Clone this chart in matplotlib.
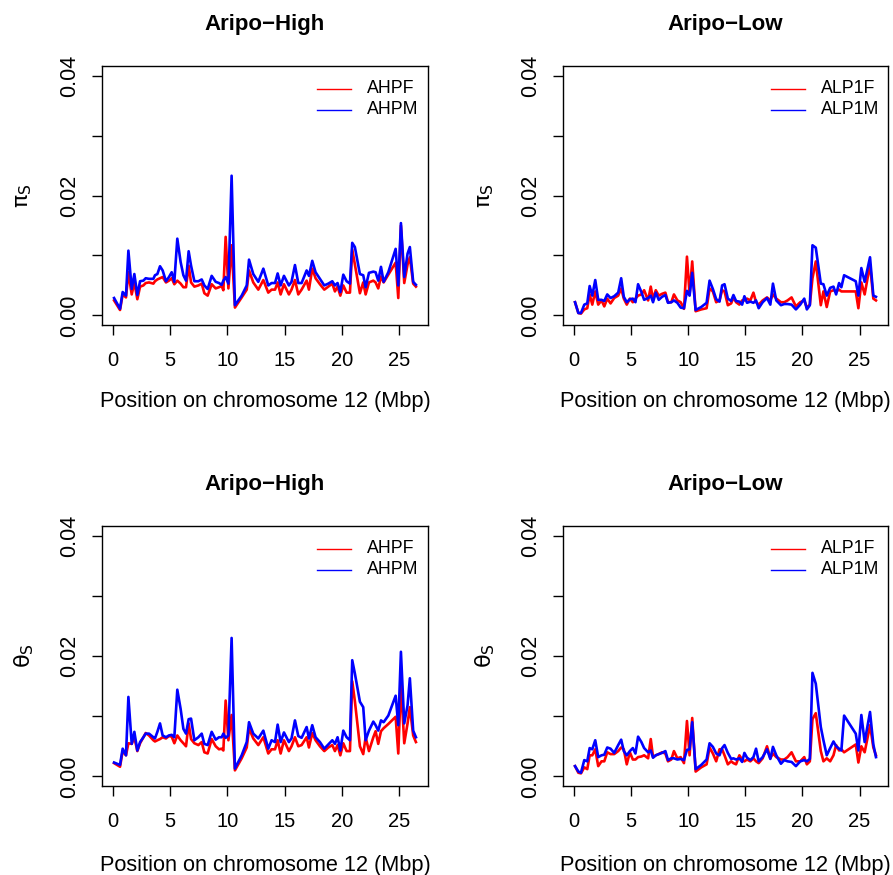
import matplotlib
matplotlib.use("Agg")
import matplotlib.pyplot as plt
import numpy as np

plt.rcParams["font.family"] = ["Liberation Sans", "DejaVu Sans"]
plt.rcParams["mathtext.fontset"] = "dejavusans"

# Window midpoints along chromosome 12 (Mbp)
pos_high = [0.12, 0.64, 0.87, 1.16, 1.37, 1.66, 1.89, 2.15, 2.39, 2.68,
            2.88, 3.17, 3.55, 3.69, 3.90, 4.13, 4.36, 4.65, 4.91, 5.15,
            5.38, 5.64, 5.93, 6.17, 6.40, 6.63, 6.84, 7.13, 7.48, 7.77,
            8.00, 8.29, 8.64, 8.99, 9.28, 9.51, 9.66, 9.86, 10.10, 10.38,
            10.67, 11.26, 11.70, 11.90, 12.27, 12.71, 13.15, 13.58, 13.87, 14.17,
            14.40, 14.66, 14.95, 15.38, 15.61, 15.91, 16.20, 16.49, 16.93, 17.13,
            17.42, 17.71, 18.09, 18.47, 18.82, 19.17, 19.40, 19.63, 19.87, 20.13,
            20.42, 20.71, 20.91, 21.14, 21.58, 21.87, 22.08, 22.37, 22.75, 22.95,
            23.18, 23.42, 23.65, 24.06, 24.70, 24.93, 25.16, 25.45, 25.74, 25.94,
            26.23, 26.47]

pos_low = [0.09, 0.38, 0.61, 0.90, 1.16, 1.37, 1.60, 1.86, 2.12, 2.41,
           2.65, 2.91, 3.20, 3.52, 3.87, 4.13, 4.36, 4.62, 4.89, 5.15,
           5.38, 5.61, 5.90, 6.14, 6.49, 6.72, 6.92, 7.16, 7.42, 7.71,
           8.00, 8.23, 8.52, 8.75, 9.05, 9.34, 9.63, 9.89, 10.12, 10.35,
           10.65, 11.14, 11.61, 11.87, 12.16, 12.45, 12.74, 12.97, 13.18, 13.47,
           13.76, 13.96, 14.19, 14.48, 14.72, 14.92, 15.15, 15.44, 15.71, 15.94,
           16.17, 16.52, 16.90, 17.19, 17.42, 17.71, 18.12, 18.41, 18.70, 19.05,
           19.43, 19.81, 20.16, 20.39, 20.65, 20.88, 21.17, 21.61, 21.84, 22.13,
           22.43, 22.72, 22.95, 23.21, 23.41, 23.65, 24.67, 24.90, 25.16, 25.45,
           25.92, 26.21, 26.44]

# Nucleotide diversity (pi_S), Aripo high-predation
pi_ahpf = [.0025, .0009, .0035, .0030, .0072, .0035, .0055, .0027, .0048, .0050,
           .0054, .0055, .0053, .0057, .0060, .0062, .0064, .0055, .0058, .0062,
           .0052, .0058, .0053, .0047, .0047, .0083, .0055, .0048, .0050, .0053,
           .0037, .0033, .0052, .0045, .0047, .0049, .0042, .0131, .0045, .0117,
           .0013, .0030, .0043, .0075, .0055, .0043, .0059, .0038, .0043, .0043,
           .0055, .0035, .0052, .0035, .0043, .0059, .0035, .0043, .0058, .0043,
           .0078, .0062, .0052, .0043, .0048, .0053, .0040, .0048, .0033, .0050,
           .0038, .0038, .0110, .0085, .0037, .0055, .0035, .0055, .0058, .0055,
           .0045, .0065, .0055, .0068, .0088, .0029, .0150, .0054, .0085, .0097,
           .0053, .0048]
pi_ahpm = [.0029, .0011, .0039, .0033, .0108, .0044, .0069, .0034, .0057, .0058,
           .0062, .0061, .0061, .0067, .0069, .0082, .0075, .0057, .0064, .0072,
           .0056, .0128, .0089, .0067, .0058, .0107, .0083, .0057, .0057, .0060,
           .0050, .0044, .0066, .0056, .0054, .0051, .0058, .0064, .0053, .0233,
           .0017, .0033, .0050, .0093, .0069, .0056, .0078, .0050, .0054, .0054,
           .0070, .0050, .0066, .0050, .0056, .0084, .0054, .0054, .0075, .0066,
           .0091, .0072, .0061, .0050, .0053, .0057, .0050, .0054, .0039, .0068,
           .0057, .0053, .0121, .0114, .0069, .0067, .0047, .0071, .0073, .0072,
           .0058, .0081, .0056, .0072, .0111, .0050, .0154, .0064, .0103, .0114,
           .0056, .0051]

# Nucleotide diversity (pi_S), Aripo low-predation
pi_alp1f = [.0022, .0004, .0003, .0010, .0012, .0035, .0018, .0040, .0018, .0025,
            .0015, .0028, .0020, .0029, .0033, .0045, .0028, .0018, .0028, .0022,
            .0028, .0033, .0035, .0042, .0025, .0048, .0027, .0042, .0033, .0036,
            .0038, .0022, .0022, .0035, .0025, .0022, .0011, .0098, .0035, .0090,
            .0007, .0010, .0012, .0045, .0040, .0022, .0025, .0042, .0040, .0017,
            .0020, .0030, .0022, .0018, .0025, .0025, .0028, .0025, .0038, .0022,
            .0018, .0025, .0030, .0025, .0035, .0028, .0022, .0022, .0025, .0030,
            .0015, .0022, .0025, .0013, .0018, .0062, .0090, .0017, .0040, .0014,
            .0040, .0042, .0040, .0043, .0040, .0040, .0040, .0012, .0055, .0035,
            .0085, .0028, .0025]
pi_alp1m = [.0022, .0004, .0004, .0018, .0020, .0049, .0033, .0059, .0026, .0026,
            .0024, .0035, .0029, .0032, .0038, .0062, .0031, .0022, .0027, .0028,
            .0022, .0052, .0039, .0026, .0029, .0033, .0022, .0038, .0026, .0031,
            .0034, .0021, .0022, .0025, .0021, .0013, .0012, .0041, .0033, .0071,
            .0009, .0014, .0021, .0058, .0044, .0027, .0023, .0050, .0052, .0028,
            .0024, .0034, .0024, .0023, .0018, .0032, .0021, .0023, .0021, .0025,
            .0012, .0022, .0029, .0018, .0053, .0025, .0017, .0019, .0019, .0018,
            .0010, .0018, .0028, .0010, .0017, .0117, .0113, .0053, .0052, .0033,
            .0046, .0048, .0035, .0054, .0047, .0067, .0057, .0033, .0079, .0056,
            .0097, .0033, .0031]

# Watterson's theta (theta_S), Aripo high-predation
th_ahpf = [.0022, .0016, .0042, .0035, .0055, .0054, .0065, .0042, .0055, .0065,
           .0072, .0068, .0060, .0058, .0060, .0062, .0065, .0063, .0067, .0066,
           .0055, .0068, .0060, .0055, .0050, .0088, .0062, .0055, .0052, .0057,
           .0040, .0038, .0062, .0050, .0045, .0046, .0043, .0126, .0060, .0102,
           .0010, .0030, .0048, .0080, .0063, .0052, .0065, .0038, .0045, .0045,
           .0060, .0038, .0060, .0042, .0050, .0065, .0050, .0052, .0065, .0048,
           .0072, .0060, .0050, .0042, .0048, .0052, .0042, .0052, .0035, .0055,
           .0042, .0042, .0158, .0125, .0050, .0037, .0065, .0042, .0065, .0075,
           .0054, .0075, .0080, .0087, .0099, .0038, .0155, .0055, .0088, .0115,
           .0068, .0057]
th_ahpm = [.0023, .0019, .0046, .0035, .0132, .0054, .0074, .0043, .0057, .0065,
           .0071, .0071, .0065, .0063, .0074, .0088, .0068, .0065, .0068, .0069,
           .0065, .0144, .0112, .0079, .0071, .0095, .0096, .0060, .0065, .0071,
           .0054, .0052, .0074, .0061, .0065, .0065, .0071, .0064, .0068, .0230,
           .0013, .0035, .0057, .0090, .0071, .0063, .0076, .0046, .0060, .0057,
           .0086, .0057, .0073, .0057, .0063, .0093, .0067, .0064, .0082, .0063,
           .0085, .0065, .0057, .0046, .0053, .0060, .0054, .0065, .0043, .0076,
           .0065, .0060, .0193, .0171, .0124, .0115, .0060, .0076, .0091, .0085,
           .0076, .0093, .0090, .0101, .0134, .0085, .0207, .0088, .0118, .0163,
           .0076, .0065]

# Watterson's theta (theta_S), Aripo low-predation
th_alp1f = [.0017, .0006, .0005, .0015, .0012, .0035, .0035, .0045, .0017, .0025,
            .0025, .0040, .0037, .0037, .0042, .0048, .0045, .0020, .0040, .0028,
            .0028, .0032, .0033, .0035, .0030, .0062, .0032, .0035, .0037, .0040,
            .0038, .0025, .0028, .0042, .0030, .0032, .0022, .0092, .0035, .0097,
            .0008, .0015, .0020, .0048, .0038, .0025, .0045, .0045, .0035, .0020,
            .0025, .0022, .0020, .0035, .0028, .0025, .0028, .0025, .0030, .0025,
            .0022, .0030, .0050, .0030, .0038, .0032, .0028, .0028, .0032, .0040,
            .0025, .0025, .0032, .0020, .0025, .0095, .0105, .0042, .0025, .0030,
            .0025, .0035, .0052, .0043, .0045, .0040, .0053, .0023, .0050, .0040,
            .0085, .0048, .0035]
th_alp1m = [.0017, .0008, .0006, .0027, .0025, .0047, .0045, .0060, .0032, .0035,
            .0036, .0048, .0046, .0039, .0052, .0061, .0042, .0035, .0042, .0047,
            .0038, .0066, .0057, .0047, .0040, .0043, .0031, .0035, .0037, .0039,
            .0042, .0027, .0030, .0030, .0028, .0029, .0027, .0044, .0045, .0090,
            .0012, .0019, .0028, .0055, .0049, .0038, .0035, .0047, .0052, .0039,
            .0029, .0030, .0028, .0030, .0024, .0039, .0031, .0027, .0032, .0046,
            .0025, .0032, .0045, .0029, .0049, .0035, .0021, .0027, .0025, .0024,
            .0017, .0025, .0027, .0025, .0029, .0172, .0154, .0082, .0060, .0035,
            .0047, .0058, .0050, .0046, .0043, .0101, .0071, .0043, .0102, .0057,
            .0107, .0053, .0032]

W, H = 893, 875
fig = plt.figure(figsize=(W / 100, H / 100), dpi=100)


def px_axes(left, top, right, bottom):
    return fig.add_axes([left / W, 1 - bottom / H, (right - left) / W, (bottom - top) / H])


panels = [
    # (box in pixels, title, ylabel, positions, female, male, labels,
    #  title baseline, xlabel baseline, legend text offset from right edge)
    ((102, 66, 428, 325), "Aripo\u2212High", r"$\mathrm{\pi}_\mathsf{S}$", pos_high, pi_ahpf, pi_ahpm,
     ("AHPF", "AHPM"), 30, 406.5, 61),
    ((563, 66, 888, 325), "Aripo\u2212Low", r"$\mathrm{\pi}_\mathsf{S}$", pos_low, pi_alp1f, pi_alp1m,
     ("ALP1F", "ALP1M"), 30, 406.5, 67),
    ((102, 526, 428, 786), "Aripo\u2212High", r"$\mathrm{\theta}_\mathsf{S}$", pos_high, th_ahpf, th_ahpm,
     ("AHPF", "AHPM"), 490, 871.5, 61),
    ((563, 526, 888, 786), "Aripo\u2212Low", r"$\mathrm{\theta}_\mathsf{S}$", pos_low, th_alp1f, th_alp1m,
     ("ALP1F", "ALP1M"), 490, 871.5, 67),
]

for (l, t, r, b), title, ylab, xs, fem, mal, labs, ty, xly, leg_off in panels:
    ax = px_axes(l, t, r, b)
    ax.plot(xs, fem, color="#FF0000", lw=1.9, solid_joinstyle="round")
    ax.plot(xs, mal, color="#0000FF", lw=1.9, solid_joinstyle="round")

    xr = max(xs) - min(xs)
    ax.set_xlim(min(xs) - 0.04 * xr, max(xs) + 0.04 * xr)
    ax.set_ylim(-0.04 * 0.04, 0.04 * 1.04)

    ax.set_xticks([0, 5, 10, 15, 20, 25])
    ax.set_yticks([0, 0.01, 0.02, 0.03, 0.04])
    ax.set_yticklabels(["0.00", "", "0.02", "", "0.04"], rotation=90, va="center")
    ax.tick_params(axis="both", direction="out", length=7.5, width=1.0, color="black")
    ax.tick_params(axis="x", pad=11, labelsize=14.5)
    ax.tick_params(axis="y", pad=8, labelsize=15.5)
    for s in ax.spines.values():
        s.set_linewidth(1.0)
        s.set_color("black")

    cx = (l + r) / 2
    cy = (t + b) / 2
    fig.text(cx / W, 1 - ty / H, title, ha="center", va="baseline",
             fontsize=16, fontweight="bold")
    fig.text(cx / W, 1 - xly / H, "Position on chromosome 12 (Mbp)",
             ha="center", va="baseline", fontsize=15.7)
    fig.text((l - 78) / W, 1 - cy / H, ylab, ha="center", va="center",
             rotation=90, fontsize=16)

    # legend in the top-right corner, drawn without a frame
    bw, bh = r - l, b - t
    tx = r - leg_off
    for k, (lab, col) in enumerate(zip(labs, ["#FF0000", "#0000FF"])):
        yy = 1 - (22.5 + 21.0 * k) / bh
        ax.plot([(tx - 50.3 - l) / bw, (tx - 16.3 - l) / bw], [yy, yy], color=col, lw=1.0,
                transform=ax.transAxes, clip_on=False)
        ax.text((tx - l) / bw, yy, lab, transform=ax.transAxes, ha="left",
                va="center", fontsize=12.8)

fig.savefig("out.png", dpi=100)
